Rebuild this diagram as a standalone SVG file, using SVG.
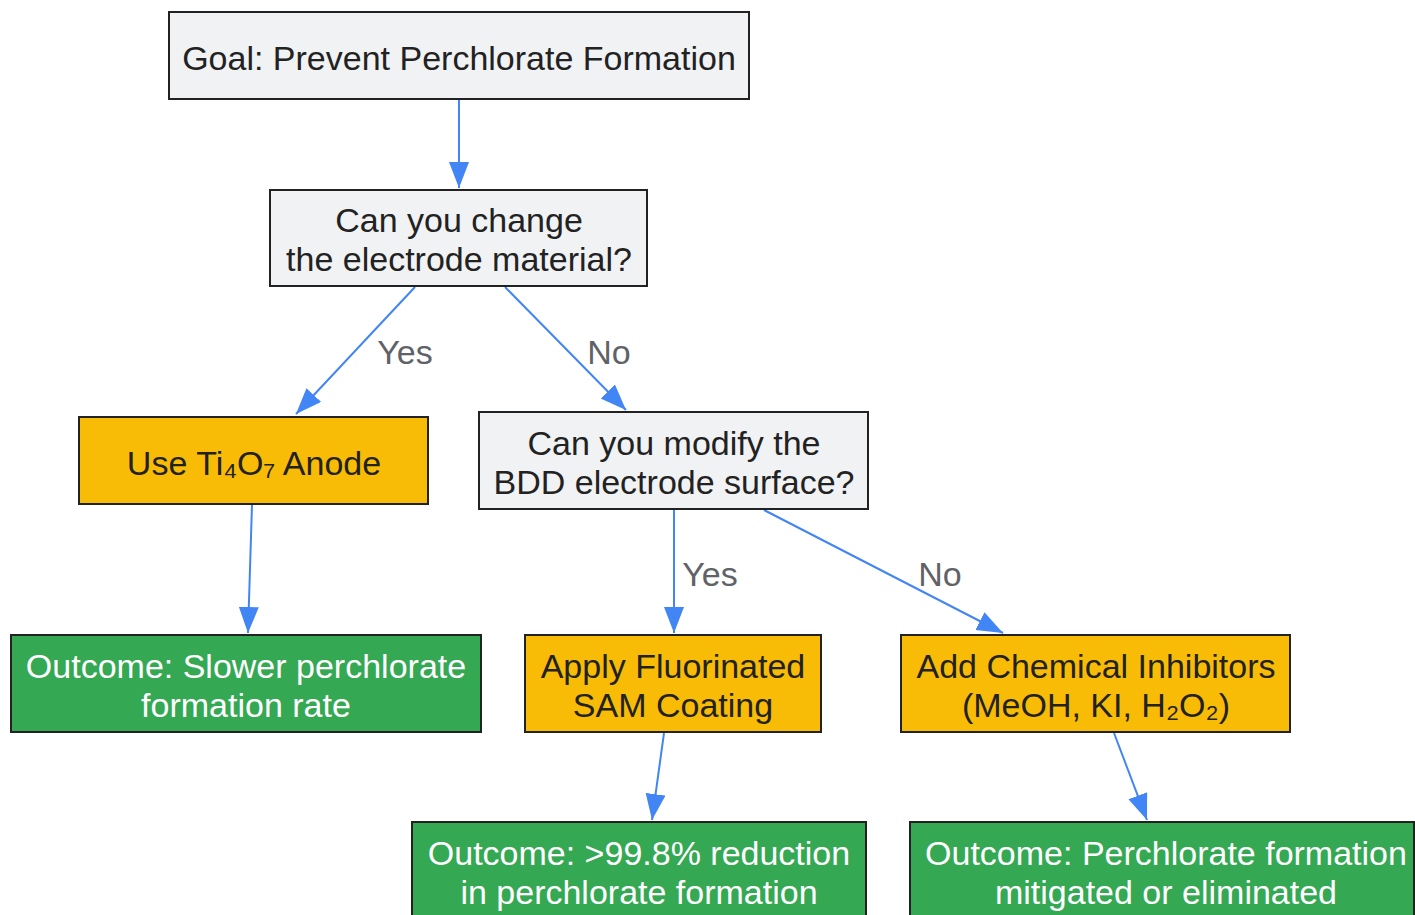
<svg xmlns="http://www.w3.org/2000/svg" width="1415" height="915" viewBox="0 0 1415 915">
<style>
  text { font-family: "Liberation Sans", Arial, "DejaVu Sans", sans-serif; font-size: 34px; text-anchor: middle; }
  .q rect { fill: #f1f2f4; stroke: #222; stroke-width: 2; }
  .a rect { fill: #f9bc06; stroke: #222; stroke-width: 2; }
  .o rect { fill: #34a853; stroke: #222; stroke-width: 2; }
  .q text, .a text { fill: #222; }
  .o text { fill: #ffffff; }
  .e { stroke: #4285f4; stroke-width: 2; fill: none; marker-end: url(#ah); }
  .lbl { fill: #5f6368; }
</style>
<defs>
  <marker id="ah" markerUnits="userSpaceOnUse" markerWidth="28" markerHeight="22" refX="26" refY="10" orient="auto">
    <path d="M0,0 L26,10 L0,20 Z" fill="#4285f4"/>
  </marker>
</defs>
<g id="connectors">
  <line class="e" x1="459" y1="100" x2="459" y2="188"/>
  <line class="e" x1="415" y1="287" x2="296" y2="414"/>
  <line class="e" x1="505" y1="287" x2="626" y2="410"/>
  <line class="e" x1="252" y1="505" x2="248" y2="633"/>
  <line class="e" x1="674" y1="510" x2="674" y2="633"/>
  <line class="e" x1="764" y1="510" x2="1003" y2="633"/>
  <line class="e" x1="664" y1="733" x2="652" y2="820"/>
  <line class="e" x1="1114" y1="733" x2="1147" y2="820"/>
  <text class="lbl" x="405" y="364">Yes</text>
  <text class="lbl" x="609" y="364">No</text>
  <text class="lbl" x="710" y="586">Yes</text>
  <text class="lbl" x="940" y="586">No</text>
</g>
<g id="goal" class="q">
  <rect x="169" y="12" width="580" height="87"/>
  <text x="459" y="70">Goal: Prevent Perchlorate Formation</text>
</g>
<g id="q1" class="q">
  <rect x="270" y="190" width="377" height="96"/>
  <text x="459" y="232">Can you change</text>
  <text x="459" y="271">the electrode material?</text>
</g>
<g id="ti4o7" class="a">
  <rect x="79" y="417" width="349" height="87"/>
  <text x="254" y="475">Use Ti₄O₇ Anode</text>
</g>
<g id="q2" class="q">
  <rect x="479" y="412" width="389" height="97"/>
  <text x="674" y="455">Can you modify the</text>
  <text x="674" y="494">BDD electrode surface?</text>
</g>
<g id="out1" class="o">
  <rect x="11" y="635" width="470" height="97"/>
  <text x="246" y="678">Outcome: Slower perchlorate</text>
  <text x="246" y="717">formation rate</text>
</g>
<g id="sam" class="a">
  <rect x="525" y="635" width="296" height="97"/>
  <text x="673" y="678">Apply Fluorinated</text>
  <text x="673" y="717">SAM Coating</text>
</g>
<g id="inhib" class="a">
  <rect x="901" y="635" width="389" height="97"/>
  <text x="1096" y="678">Add Chemical Inhibitors</text>
  <text x="1096" y="717">(MeOH, KI, H₂O₂)</text>
</g>
<g id="out2" class="o">
  <rect x="412" y="822" width="454" height="97"/>
  <text x="639" y="865">Outcome: &gt;99.8% reduction</text>
  <text x="639" y="904">in perchlorate formation</text>
</g>
<g id="out3" class="o">
  <rect x="910" y="822" width="504" height="97"/>
  <text x="1166" y="865">Outcome: Perchlorate formation</text>
  <text x="1166" y="904">mitigated or eliminated</text>
</g>
</svg>
